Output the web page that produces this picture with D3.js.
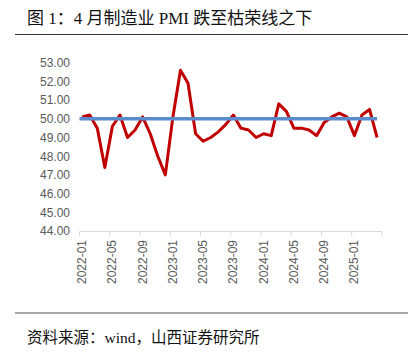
<!DOCTYPE html>
<html><head><meta charset="utf-8">
<script src="https://cdn.jsdelivr.net/npm/d3@7/dist/d3.min.js"></script>
<style>body{margin:0;background:#fff}</style>
</head><body>
<svg id="c" width="416" height="360"></svg>
<script>
const months = [];
for (let yr = 2022; yr <= 2025; yr++) for (let m = 1; m <= 12; m++) { if (yr === 2025 && m > 4) break; months.push(yr + "-" + String(m).padStart(2, "0")); }
const pmi = [50.1,50.2,49.5,47.4,49.6,50.2,49.0,49.4,50.1,49.2,48.0,47.0,
             50.1,52.6,51.9,49.2,48.8,49.0,49.3,49.7,50.2,49.5,49.4,49.0,
             49.2,49.1,50.8,50.4,49.5,49.5,49.4,49.1,49.8,50.1,50.3,50.1,
             49.1,50.2,50.5,49.0];
const line50 = months.map(() => 50);
const yTicks = [44,45,46,47,48,49,50,51,52,53];
const tickMonths = months.filter((d, i) => i % 4 === 0);

const svg = d3.select("#c");
const cjk = "'Liberation Serif','Noto Sans CJK SC',serif";
svg.append("text").attr("x", 27).attr("y", 24).attr("font-family", cjk).attr("font-size", 17).attr("fill", "#111")
  .text("图 1：4 月制造业 PMI 跌至枯荣线之下");
svg.append("line").attr("x1", 15).attr("x2", 408).attr("y1", 34.5).attr("y2", 34.5).attr("stroke", "#333").attr("stroke-width", 1);
svg.append("line").attr("x1", 15).attr("x2", 408).attr("y1", 313).attr("y2", 313).attr("stroke", "#888").attr("stroke-width", 1.5);
svg.append("text").attr("x", 27).attr("y", 343).attr("font-family", cjk).attr("font-size", 15.5).attr("fill", "#111")
  .text("资料来源：wind，山西证券研究所");

const x = d3.scaleBand().domain(months).range([79.5, 382]);
const y = d3.scaleLinear().domain([44, 53]).range([231, 62.7]);
const px = d => x(d) + x.bandwidth() * 0.35;

const yAxis = svg.append("g").attr("transform", "translate(70,0)")
  .call(d3.axisLeft(y).tickValues(yTicks).tickFormat(d3.format(".2f")).tickSize(0).tickPadding(0));
yAxis.select(".domain").remove();
yAxis.selectAll("text").attr("font-family", "'Liberation Sans',Arial,sans-serif").attr("font-size", 12).attr("fill", "#595959");

const ax = svg.append("g");
ax.append("line").attr("x1", x.range()[0]).attr("x2", x.range()[1]).attr("y1", 231.5).attr("y2", 231.5).attr("stroke", "#d9d9d9");
const tk = tickMonths.map(d => x(d)).concat([x.range()[1]]);
ax.selectAll("line.t").data(tk).join("line").attr("class", "t")
  .attr("x1", d => d).attr("x2", d => d).attr("y1", 231.5).attr("y2", 236).attr("stroke", "#d9d9d9");
ax.selectAll("text").data(tickMonths).join("text")
  .attr("transform", d => `translate(${x(d) + 6.5},240) rotate(-90)`)
  .attr("text-anchor", "end").attr("font-family", "'Liberation Sans',Arial,sans-serif").attr("font-size", 12).attr("fill", "#595959")
  .text(d => d);

const ln = d3.line().x((d, i) => px(months[i])).y(d => y(d));
svg.append("path").datum(pmi).attr("d", ln).attr("fill", "none").attr("stroke", "#C00000").attr("stroke-width", 3).attr("stroke-linejoin", "round");
svg.append("path").datum(line50).attr("d", d3.line().x((d, i) => i === 0 ? x(months[0]) : px(months[i])).y(d => y(d)))
  .attr("fill", "none").attr("stroke", "#5B8BCB").attr("stroke-width", 3.5);
</script>
</body></html>
